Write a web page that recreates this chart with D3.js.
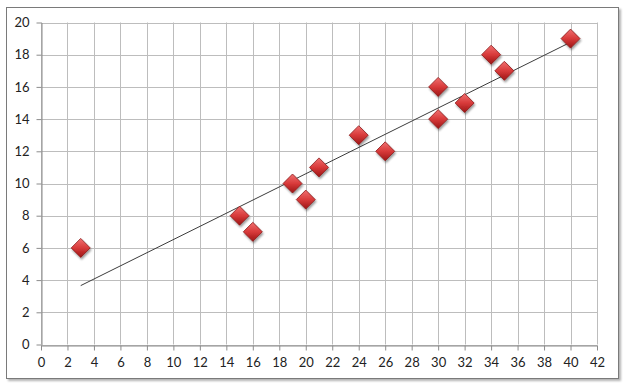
<!DOCTYPE html>
<html>
<head>
<meta charset="utf-8">
<script src="https://cdn.jsdelivr.net/npm/d3@7"></script>
<style>
  body { margin: 0; background: #fff; }
  text { font-family: Lato, "Open Sans", sans-serif; font-size: 13px; fill: #222; }
</style>
</head>
<body>
<div class="chart"></div>
<script>
// data
const xs = [3, 15, 16, 19, 20, 21, 24, 26, 30, 30, 32, 34, 35, 40];
const ys = [6, 8, 7, 10, 9, 11, 13, 12, 16, 14, 15, 18, 17, 19];
const x_ticks = d3.range(0, 43, 2);
const y_ticks = d3.range(0, 21, 2);

const W = 625, H = 385;
const plot = { left: 41, right: 597, top: 22.5, bottom: 344.5 };

const svg = d3.select('.chart')
    .append('svg')
    .attr('width', W)
    .attr('height', H);

const defs = svg.append('defs');

// light shadow for the frame
const shadow = defs.append('filter').attr('id', 'frameShadow')
    .attr('x', '-5%').attr('y', '-5%').attr('width', '110%').attr('height', '110%');
shadow.append('feGaussianBlur').attr('in', 'SourceAlpha').attr('stdDeviation', 1);
shadow.append('feOffset').attr('dx', 1.5).attr('dy', 1.5).attr('result', 'ob');
shadow.append('feComponentTransfer').append('feFuncA').attr('type', 'linear').attr('slope', 0.3);
const fm = shadow.append('feMerge');
fm.append('feMergeNode');
fm.append('feMergeNode').attr('in', 'SourceGraphic');

// diamond gradient
const grad = defs.append('linearGradient').attr('id', 'diamondFill')
    .attr('x1', 0).attr('y1', 0).attr('x2', 0).attr('y2', 1);
grad.append('stop').attr('offset', '0%').attr('stop-color', '#f07070');
grad.append('stop').attr('offset', '50%').attr('stop-color', '#d83a3a');
grad.append('stop').attr('offset', '100%').attr('stop-color', '#9c1515');

const dshadow = defs.append('filter').attr('id', 'markShadow')
    .attr('x', '-50%').attr('y', '-50%').attr('width', '200%').attr('height', '200%');
dshadow.append('feGaussianBlur').attr('in', 'SourceAlpha').attr('stdDeviation', 1.2);
dshadow.append('feOffset').attr('dx', 1).attr('dy', 1.5);
dshadow.append('feComponentTransfer').append('feFuncA').attr('type', 'linear').attr('slope', 0.4);
const dm = dshadow.append('feMerge');
dm.append('feMergeNode');
dm.append('feMergeNode').attr('in', 'SourceGraphic');

// chart frame
svg.append('rect')
    .attr('x', 6.5).attr('y', 7.5)
    .attr('width', 612).attr('height', 371)
    .attr('fill', '#fff')
    .attr('stroke', '#7a7a7a')
    .attr('stroke-width', 1)
    .attr('filter', 'url(#frameShadow)');

// scales
const x_scale = d3.scaleLinear().domain([0, 42]).range([plot.left, plot.right]);
const y_scale = d3.scaleLinear().domain([0, 20]).range([plot.bottom, plot.top]);

// gridlines
svg.append('g')
    .selectAll('line')
    .data(x_ticks)
    .enter()
    .append('line')
    .attr('x1', d => Math.round(x_scale(d)) + 0.5)
    .attr('x2', d => Math.round(x_scale(d)) + 0.5)
    .attr('y1', plot.top)
    .attr('y2', plot.bottom)
    .attr('stroke', '#bdbdbd');

svg.append('g')
    .selectAll('line')
    .data(y_ticks)
    .enter()
    .append('line')
    .attr('x1', plot.left)
    .attr('x2', plot.right)
    .attr('y1', d => Math.round(y_scale(d)) + 0.5)
    .attr('y2', d => Math.round(y_scale(d)) + 0.5)
    .attr('stroke', '#bdbdbd');

// axes
svg.append('g')
    .attr('transform', `translate(0,${Math.round(plot.bottom) + 0.5})`)
    .call(d3.axisBottom(x_scale).tickValues(x_ticks).tickSize(5).tickPadding(7).tickSizeOuter(0))
    .call(g => g.select('.domain').attr('stroke', '#8c8c8c'))
    .call(g => g.selectAll('.tick line').attr('stroke', '#8c8c8c'));

svg.append('g')
    .attr('transform', `translate(${Math.round(plot.left) + 0.5},0)`)
    .call(d3.axisLeft(y_scale).tickValues(y_ticks).tickSize(5).tickPadding(7).tickSizeOuter(0))
    .call(g => g.select('.domain').attr('stroke', '#8c8c8c'))
    .call(g => g.selectAll('.tick line').attr('stroke', '#8c8c8c'));

svg.selectAll('.tick text')
    .style('font-family', 'Lato, "Open Sans", sans-serif')
    .style('font-size', '13px')
    .attr('fill', '#222');

// linear trendline (least squares)
const mx = d3.mean(xs), my = d3.mean(ys);
const slope = d3.sum(xs, (x, i) => (x - mx) * (ys[i] - my)) / d3.sum(xs, x => (x - mx) * (x - mx));
const intercept = my - slope * mx;
const x_lo = d3.min(xs), x_hi = d3.max(xs);

svg.append('line')
    .attr('x1', x_scale(x_lo))
    .attr('y1', y_scale(intercept + slope * x_lo))
    .attr('x2', x_scale(x_hi))
    .attr('y2', y_scale(intercept + slope * x_hi))
    .attr('stroke', '#3c3c3c')
    .attr('stroke-width', 1);

// diamond markers
const r = 9.5;
svg.append('g')
    .selectAll('path')
    .data(xs)
    .enter()
    .append('path')
    .attr('d', `M0,${-r}L${r},0L0,${r}L${-r},0Z`)
    .attr('transform', (d, i) => `translate(${x_scale(d)},${y_scale(ys[i])})`)
    .attr('fill', 'url(#diamondFill)')
    .attr('stroke', '#8a1b1b')
    .attr('stroke-width', 0.8)
    .attr('filter', 'url(#markShadow)');
</script>
</body>
</html>
